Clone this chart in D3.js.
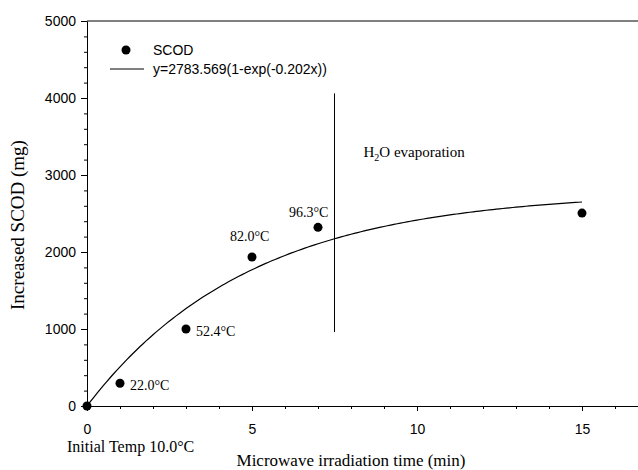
<!DOCTYPE html>
<html>
<head>
<meta charset="utf-8">
<script src="https://cdn.jsdelivr.net/npm/d3@7"></script>
<style>
    body { margin: 0; background: #fff; }
    .tick text { font-family: "Liberation Sans", Arial, sans-serif; font-size: 14px; }
    .serif { font-family: "Liberation Serif", "Times New Roman", serif; }
</style>
</head>
<body>
<svg id="chart" width="638" height="470"></svg>
<script>
// measured SCOD values
const times = [0, 1, 3, 5, 7, 15];
const scod = [0, 295, 1000, 1935, 2320, 2505];
const tempLabels = ["", "22.0°C", "52.4°C", "82.0°C", "96.3°C", ""];
const xTicks = [0, 5, 10, 15];
const yTicks = [0, 1000, 2000, 3000, 4000, 5000];
// fitted model y = a(1-exp(-k x))
const fitA = 2783.569;
const fitK = 0.202;
const evapLineX = 7.5;
const evapLineY = [960, 4060];

const svg = d3.select("#chart");
const margin = {left: 87, right: 0, top: 21, bottom: 64};
const width = 638 - margin.left - margin.right;
const height = 470 - margin.top - margin.bottom;

let x = d3.scaleLinear().domain([0, width / 33]).range([0, width]);
let y = d3.scaleLinear().domain([0, 5000]).range([height, 0]);

let g = svg.append("g").attr("transform", `translate(${margin.left},${margin.top})`);

// minor ticks
let xAxisMinor = d3.axisBottom(x).tickValues(d3.range(0, 17)).tickSize(3).tickFormat("");
g.append("g").attr("transform", `translate(0,${height})`).call(xAxisMinor)
    .call(a => a.select(".domain").remove());
let yAxisMinor = d3.axisLeft(y).tickValues(d3.range(0, 5001, 200)).tickSize(3).tickFormat("");
g.append("g").call(yAxisMinor).call(a => a.select(".domain").remove());

let xAxis = d3.axisBottom(x).tickValues(xTicks).tickSize(5).tickPadding(13).tickSizeOuter(0);
g.append("g").attr("transform", `translate(0,${height})`).call(xAxis);
let yAxis = d3.axisLeft(y).tickValues(yTicks).tickFormat(d3.format("d"))
    .tickSize(6).tickPadding(5).tickSizeOuter(0);
g.append("g").call(yAxis);

// top frame line
g.append("line")
    .attr("x1", 0).attr("x2", width)
    .attr("y1", 0).attr("y2", 0)
    .attr("stroke", "#000");

// fitted curve
let fitData = d3.range(0, 15.01, 0.1).map(t => [t, fitA * (1 - Math.exp(-fitK * t))]);
g.append("path")
    .datum(fitData)
    .attr("fill", "none")
    .attr("stroke", "#000")
    .attr("stroke-width", 1.2)
    .attr("d", d3.line().x(d => x(d[0])).y(d => y(d[1])));

// evaporation line
g.append("line")
    .attr("x1", x(evapLineX)).attr("x2", x(evapLineX))
    .attr("y1", y(evapLineY[0])).attr("y2", y(evapLineY[1]))
    .attr("stroke", "#000");

let data = times.map((t, i) => ({t: t, v: scod[i], label: tempLabels[i]}));

g.selectAll(".dot")
    .data(data)
    .enter()
    .append("circle")
    .attr("class", "dot")
    .attr("cx", d => x(d.t))
    .attr("cy", d => y(d.v))
    .attr("r", 4.5)
    .attr("fill", "#000");

// temperature annotations
let labelOffsets = {1: [10, 7], 3: [10, 7], 5: [-22, -16], 7: [-29, -10]};
g.selectAll(".templabel")
    .data(data.filter(d => d.label != ""))
    .enter()
    .append("text")
    .attr("class", "templabel serif")
    .attr("x", d => x(d.t) + labelOffsets[d.t][0])
    .attr("y", d => y(d.v) + labelOffsets[d.t][1])
    .attr("font-size", 14)
    .text(d => d.label);

g.append("text")
    .attr("class", "serif")
    .attr("x", -20).attr("y", height + 46)
    .attr("font-size", 16)
    .text("Initial Temp  10.0°C");

let evap = g.append("text")
    .attr("class", "serif")
    .attr("x", x(evapLineX) + 29).attr("y", y(3240))
    .attr("font-size", 15);
evap.append("tspan").text("H");
evap.append("tspan").attr("font-size", 10).attr("dy", 4).text("2");
evap.append("tspan").attr("dy", -4).text("O evaporation");

// legend
g.append("circle").attr("cx", 39).attr("cy", 29).attr("r", 4.5).attr("fill", "#000");
g.append("text").attr("x", 66).attr("y", 34)
    .style("font-family", "Liberation Sans, Arial, sans-serif").attr("font-size", 14)
    .text("SCOD");
g.append("line").attr("x1", 23).attr("x2", 57).attr("y1", 48).attr("y2", 48)
    .attr("stroke", "#000");
g.append("text").attr("x", 66).attr("y", 53)
    .style("font-family", "Liberation Sans, Arial, sans-serif").attr("font-size", 14)
    .text("y=2783.569(1-exp(-0.202x))");

// axis titles
svg.append("text")
    .attr("class", "serif")
    .attr("x", 351).attr("y", 466)
    .attr("text-anchor", "middle")
    .attr("font-size", 17)
    .text("Microwave irradiation time (min)");

svg.append("text")
    .attr("class", "serif")
    .attr("transform", `translate(24,225) rotate(-90)`)
    .attr("text-anchor", "middle")
    .attr("font-size", 19)
    .text("Increased SCOD (mg)");
</script>
</body>
</html>
